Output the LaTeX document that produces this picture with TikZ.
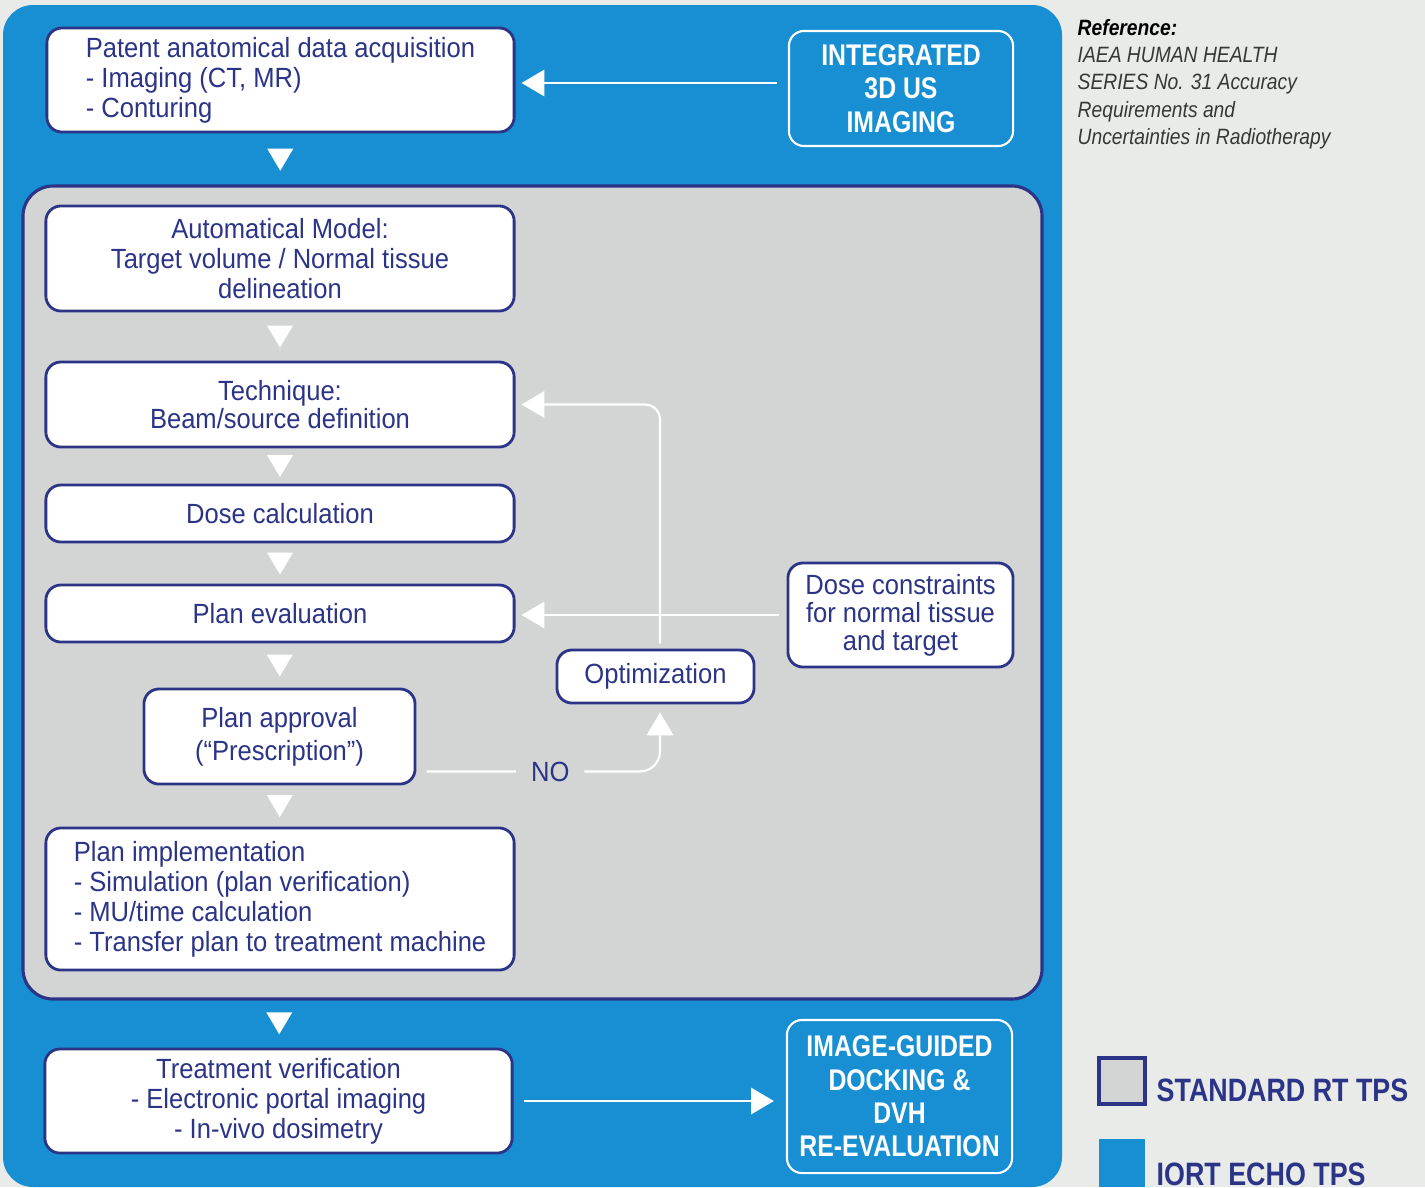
\documentclass[tikz,border=0pt]{standalone}
\usepackage{fontspec}
\setmainfont{Liberation Sans}[FakeStretch=0.92]
\newfontfamily\headfont{Liberation Sans}[FakeStretch=0.83]
\newfontfamily\notefont{Liberation Sans}[FakeStretch=0.87]
\usetikzlibrary{arrows.meta,positioning,calc}
\definecolor{pagegray}{RGB}{233,235,233}
\definecolor{iortblue}{RGB}{24,143,210}
\definecolor{panelgray}{RGB}{211,213,213}
\definecolor{navyline}{RGB}{43,52,135}
\definecolor{notegray}{RGB}{55,55,55}

\tikzset{
  stepbox/.style={draw=navyline, line width=0.8pt, fill=white, rounded corners=0.15cm,
    text=navyline, font=\fontsize{7.9}{8.5}\selectfont, align=center, inner sep=0pt},
  usbox/.style={draw=white, line width=0.6pt, rounded corners=0.15cm, text=white,
    font=\headfont\bfseries\fontsize{8.5}{9.5}\selectfont, align=center, inner sep=0pt},
  legendtext/.style={text=navyline, inner sep=0pt, font=\headfont\bfseries\fontsize{9.2}{10}\selectfont},
  flow/.style={white, line width=0.6pt},
  tip/.style={-{Triangle[width=7.5pt,length=6.5pt]}},
  downtri/.pic={\fill[white] (-13,-11) -- (13,-11) -- (0,11) -- cycle;},
}

\begin{document}
\begin{tikzpicture}[x=0.01cm, y=-0.01cm]
\useasboundingbox (0,0) rectangle (1425,1187);
\fill[pagegray] (0,0) rectangle (1425,1187);

% Panels
\fill[iortblue, rounded corners=0.3cm] (3,5) rectangle (1062,1187);
\filldraw[fill=panelgray, draw=navyline, line width=0.9pt, rounded corners=0.3cm] (23,186) rectangle (1042,999);
\coordinate (paneltop) at (280,186);
\coordinate (panelbot) at (280,999);

% Steps
\node[stepbox, minimum width=4.67cm, minimum height=1.04cm, align=left] (patient) at (280.5,80)
  {Patent anatomical data acquisition\\- Imaging (CT, MR)\\- Conturing};
\node[stepbox, minimum width=4.68cm, minimum height=1.05cm] (model) at (280,258.5)
  {Automatical Model:\\Target volume / Normal tissue\\delineation};
\node[stepbox, minimum width=4.68cm, minimum height=0.85cm, font=\fontsize{7.9}{8}\selectfont] (tech) at (280,404.5)
  {Technique:\\Beam/source definition};
\node[stepbox, minimum width=4.68cm, minimum height=0.57cm] (dose) at (280,513.5) {Dose calculation};
\node[stepbox, minimum width=4.68cm, minimum height=0.57cm] (evalu) at (280,613.5) {Plan evaluation};
\node[stepbox, minimum width=2.71cm, minimum height=0.95cm, font=\fontsize{7.9}{9.3}\selectfont] (approv) at (279.5,736.5)
  {Plan approval\\(``Prescription'')};
\node[stepbox, minimum width=4.68cm, minimum height=1.42cm, align=left] (impl) at (280,899)
  {Plan implementation\\- Simulation (plan verification)\\- MU/time calculation\\- Transfer plan to treatment machine};
\node[stepbox, minimum width=4.67cm, minimum height=1.04cm] (verif) at (278.5,1101)
  {Treatment verification\\- Electronic portal imaging\\- In-vivo dosimetry};
\node[stepbox, minimum width=1.97cm, minimum height=0.53cm] (optim) at (655.5,676.5) {Optimization};
\node[stepbox, minimum width=2.25cm, minimum height=1.04cm, font=\fontsize{7.9}{8}\selectfont] (constr) at (900.5,615)
  {Dose constraints\\for normal tissue\\and target};

% Echo boxes
\node[usbox, minimum width=2.24cm, minimum height=1.15cm] (integ) at (901,88.5) {INTEGRATED\\3D US\\IMAGING};
\node[usbox, minimum width=2.25cm, minimum height=1.53cm] (guided) at (899.5,1096.5)
  {IMAGE-GUIDED\\DOCKING \&\\DVH\\RE-EVALUATION};

% Flow marks
\path ($(patient.south)!0.5!(paneltop)$) pic {downtri};
\path ($(model.south)!0.5!(tech.north)$) pic {downtri};
\path ($(tech.south)!0.5!(dose.north)$) pic {downtri};
\path ($(dose.south)!0.5!(evalu.north)$) pic {downtri};
\path ($(evalu.south)!0.5!(approv.north)$) pic {downtri};
\path ($(approv.south)!0.5!(impl.north)$) pic {downtri};
\path ($(panelbot)!0.5!(verif.north)$) pic {downtri};

% Connectors
\draw[flow, tip, shorten <=0.11cm, shorten >=0.06cm] ([yshift=0.055cm]integ.west) -- ([yshift=0.055cm]integ.west -| patient.east);
\draw[flow, tip, shorten <=0.1cm, shorten >=0.12cm] (verif.east) -- (verif.east -| guided.west);
\draw[flow, tip, shorten <=0.08cm, shorten >=0.06cm] (constr.west) -- (constr.west -| evalu.east);
\draw[flow, tip, rounded corners=0.15cm, shorten <=0.05cm, shorten >=0.06cm] ([xshift=0.045cm]optim.north) -- ([xshift=0.045cm]optim.north |- tech.east) -- (tech.east);
\coordinate (nostart) at ([xshift=0.1cm, yshift=0.14cm]approv.south east);
\draw[flow, tip, rounded corners=0.2cm, shorten >=0.08cm] (nostart) -- node[pos=0.53, fill=panelgray, text=navyline, inner xsep=0.15cm, font=\fontsize{7.9}{8.5}\selectfont] (nolabel) {NO} ([xshift=0.045cm]nostart -| optim.south) -- ([xshift=0.045cm]optim.south);

% Reference note
\node[anchor=north west, inner sep=0pt, align=left, text=notegray, font=\notefont\itshape\fontsize{6.3}{7.7}\selectfont] (refnote) at (1077,19)
  {\textcolor{black}{\bfseries Reference:}\\IAEA HUMAN HEALTH\\SERIES No. 31 Accuracy\\Requirements and\\Uncertainties in Radiotherapy};

% Legend
\filldraw[fill=panelgray, draw=navyline, line width=0.9pt] (1099,1058) rectangle (1145,1104);
\node[legendtext, anchor=base west] (stdlabel) at (1156,1101) {STANDARD RT TPS};
\fill[iortblue] (1099,1139) rectangle (1145,1187);
\node[legendtext, anchor=base west] (iortlabel) at (1156,1185) {IORT ECHO TPS};
\end{tikzpicture}
\end{document}
